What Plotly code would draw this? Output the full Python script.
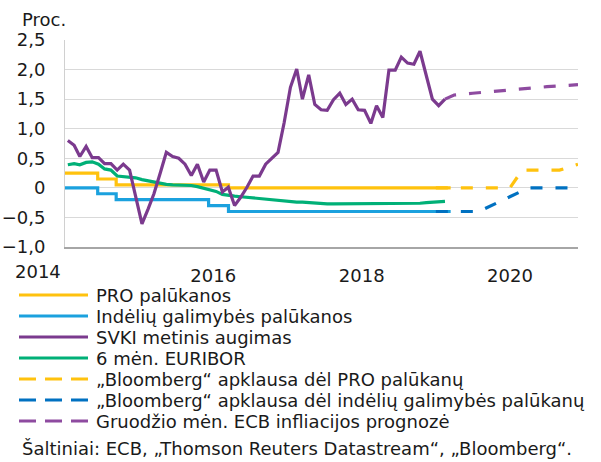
import pandas as pd
import plotly.graph_objects as go

# ---------------- data ----------------
months = pd.date_range("2014-01-01", periods=62, freq="MS") + pd.Timedelta(days=14)

hicp = [0.80, 0.72, 0.53, 0.70, 0.51, 0.51, 0.41, 0.41, 0.30, 0.40, 0.30, -0.15,
        -0.61, -0.35, -0.10, 0.25, 0.60, 0.53, 0.50, 0.40, 0.21, 0.40, 0.10, 0.30,
        0.30, -0.07, 0.01, -0.30, -0.16, 0.01, 0.20, 0.20, 0.40, 0.50, 0.60, 1.10,
        1.70, 2.01, 1.50, 1.91, 1.41, 1.32, 1.31, 1.49, 1.60, 1.41, 1.50, 1.32,
        1.31, 1.09, 1.39, 1.19, 1.99, 1.99, 2.21, 2.11, 2.09, 2.31, 1.88, 1.50,
        1.39, 1.50]

euribor = [0.39, 0.41, 0.39, 0.43, 0.44, 0.40, 0.32, 0.30, 0.20, 0.19, 0.18, 0.17,
           0.14, 0.12, 0.09, 0.07, 0.06, 0.05, 0.05, 0.04, 0.04, 0.02, -0.01, -0.04,
           -0.06, -0.11, -0.13, -0.14, -0.15, -0.16, -0.18, -0.19, -0.20, -0.21, -0.21, -0.22,
           -0.23, -0.24, -0.24, -0.25, -0.25, -0.26, -0.27, -0.27, -0.27, -0.27, -0.27, -0.27,
           -0.27, -0.27, -0.27, -0.27, -0.27, -0.27, -0.27, -0.27, -0.27, -0.26, -0.25, -0.24,
           -0.23, -0.23]

mro_dates = ["2014-01-01", "2014-06-11", "2014-09-10", "2016-03-16", "2019-03-15"]
mro_values = [0.25, 0.15, 0.05, 0.00, 0.00]

dep_dates = ["2014-01-01", "2014-06-11", "2014-09-10", "2015-12-09", "2016-03-16", "2019-03-15"]
dep_values = [0.00, -0.10, -0.20, -0.30, -0.40, -0.40]

bbg_mro_dates = ["2019-01-01", "2020-01-01", "2020-03-01", "2020-09-01", "2020-12-01"]
bbg_mro_values = [0.00, 0.00, 0.30, 0.30, 0.40]

bbg_dep_dates = ["2019-01-01", "2019-08-01", "2019-12-01", "2020-04-01", "2020-12-01"]
bbg_dep_values = [-0.40, -0.40, -0.20, 0.00, 0.00]

ecb_dates = ["2019-02-15", "2019-04-01", "2019-07-01", "2019-10-01", "2020-01-01",
             "2020-04-01", "2020-07-01", "2020-10-01", "2020-12-01"]
ecb_values = [1.50, 1.57, 1.60, 1.63, 1.65, 1.68, 1.71, 1.73, 1.745]

y_ticks = [-1.0, -0.5, 0, 0.5, 1.0, 1.5, 2.0, 2.5]
y_ticktext = ["\u22121,0", "\u22120,5", "0", "0,5", "1,0", "1,5", "2,0", "2,5"]
x_ticks = ["2016-01-01", "2018-01-01", "2020-01-01"]
x_ticktext = ["2016", "2018", "2020"]

names = ["PRO palūkanos",
         "Indėlių galimybės palūkanos",
         "SVKI metinis augimas",
         "6 mėn. EURIBOR",
         "„Bloomberg“ apklausa dėl PRO palūkanų",
         "„Bloomberg“ apklausa dėl indėlių galimybės palūkanų",
         "Gruodžio mėn. ECB infliacijos prognozė"]

# ---------------- style ----------------
FONT = "DejaVu Sans"
FS = 18
TXT = "#1a1a1a"
YEL = "#FFC20E"
BLU = "#1BA1DE"
PUR = "#7B3A8E"
GRN = "#00B077"
DBLU = "#0071C1"
LPUR = "#8E4BA0"
DASH = "12px,13px"
LW = 3.2

# plot-area geometry (pixels) used to place the legend / notes
L, R, T, B = 65, 578, 40, 247
def px_x(p):
    return (p - L) / (R - L)
def px_y(p):
    return (B - p) / (B - T)

fig = go.Figure()
fig.add_trace(go.Scatter(x=mro_dates, y=mro_values, mode="lines", line_shape="hv",
                         line=dict(color=YEL, width=LW), name=names[0]))
fig.add_trace(go.Scatter(x=dep_dates, y=dep_values, mode="lines", line_shape="hv",
                         line=dict(color=BLU, width=LW), name=names[1]))
fig.add_trace(go.Scatter(x=months, y=euribor, mode="lines",
                         line=dict(color=GRN, width=LW), name=names[3]))
fig.add_trace(go.Scatter(x=bbg_mro_dates, y=bbg_mro_values, mode="lines",
                         line=dict(color=YEL, width=LW, dash=DASH), name=names[4]))
fig.add_trace(go.Scatter(x=bbg_dep_dates, y=bbg_dep_values, mode="lines",
                         line=dict(color=DBLU, width=LW, dash=DASH), name=names[5]))
fig.add_trace(go.Scatter(x=months, y=hicp, mode="lines",
                         line=dict(color=PUR, width=LW), name=names[2]))
fig.add_trace(go.Scatter(x=ecb_dates, y=ecb_values, mode="lines",
                         line=dict(color=LPUR, width=LW, dash=DASH), name=names[6]))

fig.update_layout(
    width=601, height=462,
    margin=dict(l=L, r=601 - R, t=T, b=462 - B),
    paper_bgcolor="white", plot_bgcolor="white",
    font=dict(family=FONT, size=FS, color=TXT),
    showlegend=False,
    xaxis=dict(type="date", range=["2014-01-01", "2020-12-01"],
               tickvals=x_ticks, ticktext=x_ticktext, ticks="",
               showgrid=False, zeroline=False, showline=True, automargin=False,
               linecolor="#a6a6a6", linewidth=2, ticklabelstandoff=11,
               tickfont=dict(family=FONT, size=FS, color=TXT)),
    yaxis=dict(range=[-1.0, 2.5], tickvals=y_ticks, ticktext=y_ticktext, ticks="",
               showgrid=True, gridcolor="#d9d9d9", gridwidth=1, zeroline=False,
               showline=True, linecolor="#d0d0d0", linewidth=1, automargin=False,
               ticklabelstandoff=15,
               tickfont=dict(family=FONT, size=FS, color=TXT)),
)

# legend (drawn below the plot, like the original)
legend_rows = [295, 316, 337, 358, 379, 400, 421]
legend_items = [(names[0], YEL, "solid"), (names[1], BLU, "solid"),
                (names[2], PUR, "solid"), (names[3], GRN, "solid"),
                (names[4], YEL, "17px,9px"), (names[5], DBLU, "17px,9px"),
                (names[6], LPUR, "17px,9px")]
for row, (label, col, dash) in zip(legend_rows, legend_items):
    fig.add_shape(type="line", xref="paper", yref="paper",
                  x0=px_x(19), x1=px_x(88), y0=px_y(row), y1=px_y(row),
                  line=dict(color=col, width=3, dash=dash))
    fig.add_annotation(text=label, xref="paper", yref="paper", x=px_x(94), y=px_y(row),
                       xanchor="left", yanchor="middle", showarrow=False,
                       font=dict(family=FONT, size=FS, color=TXT))

fig.add_annotation(text="Proc.", xref="paper", yref="paper", x=px_x(20), y=px_y(19),
                   xanchor="left", yanchor="middle", showarrow=False,
                   font=dict(family=FONT, size=FS, color=TXT))
fig.add_annotation(text="2014", xref="paper", yref="paper", x=px_x(38), y=px_y(271),
                   xanchor="center", yanchor="middle", showarrow=False,
                   font=dict(family=FONT, size=FS, color=TXT))
fig.add_annotation(text="Šaltiniai: ECB, „Thomson Reuters Datastream“, „Bloomberg“.",
                   xref="paper", yref="paper", x=px_x(20), y=px_y(448),
                   xanchor="left", yanchor="middle", showarrow=False,
                   font=dict(family=FONT, size=FS, color=TXT))

fig.write_html("out.html", config={"displayModeBar": False},
               post_script="document.body.style.margin='0';")
